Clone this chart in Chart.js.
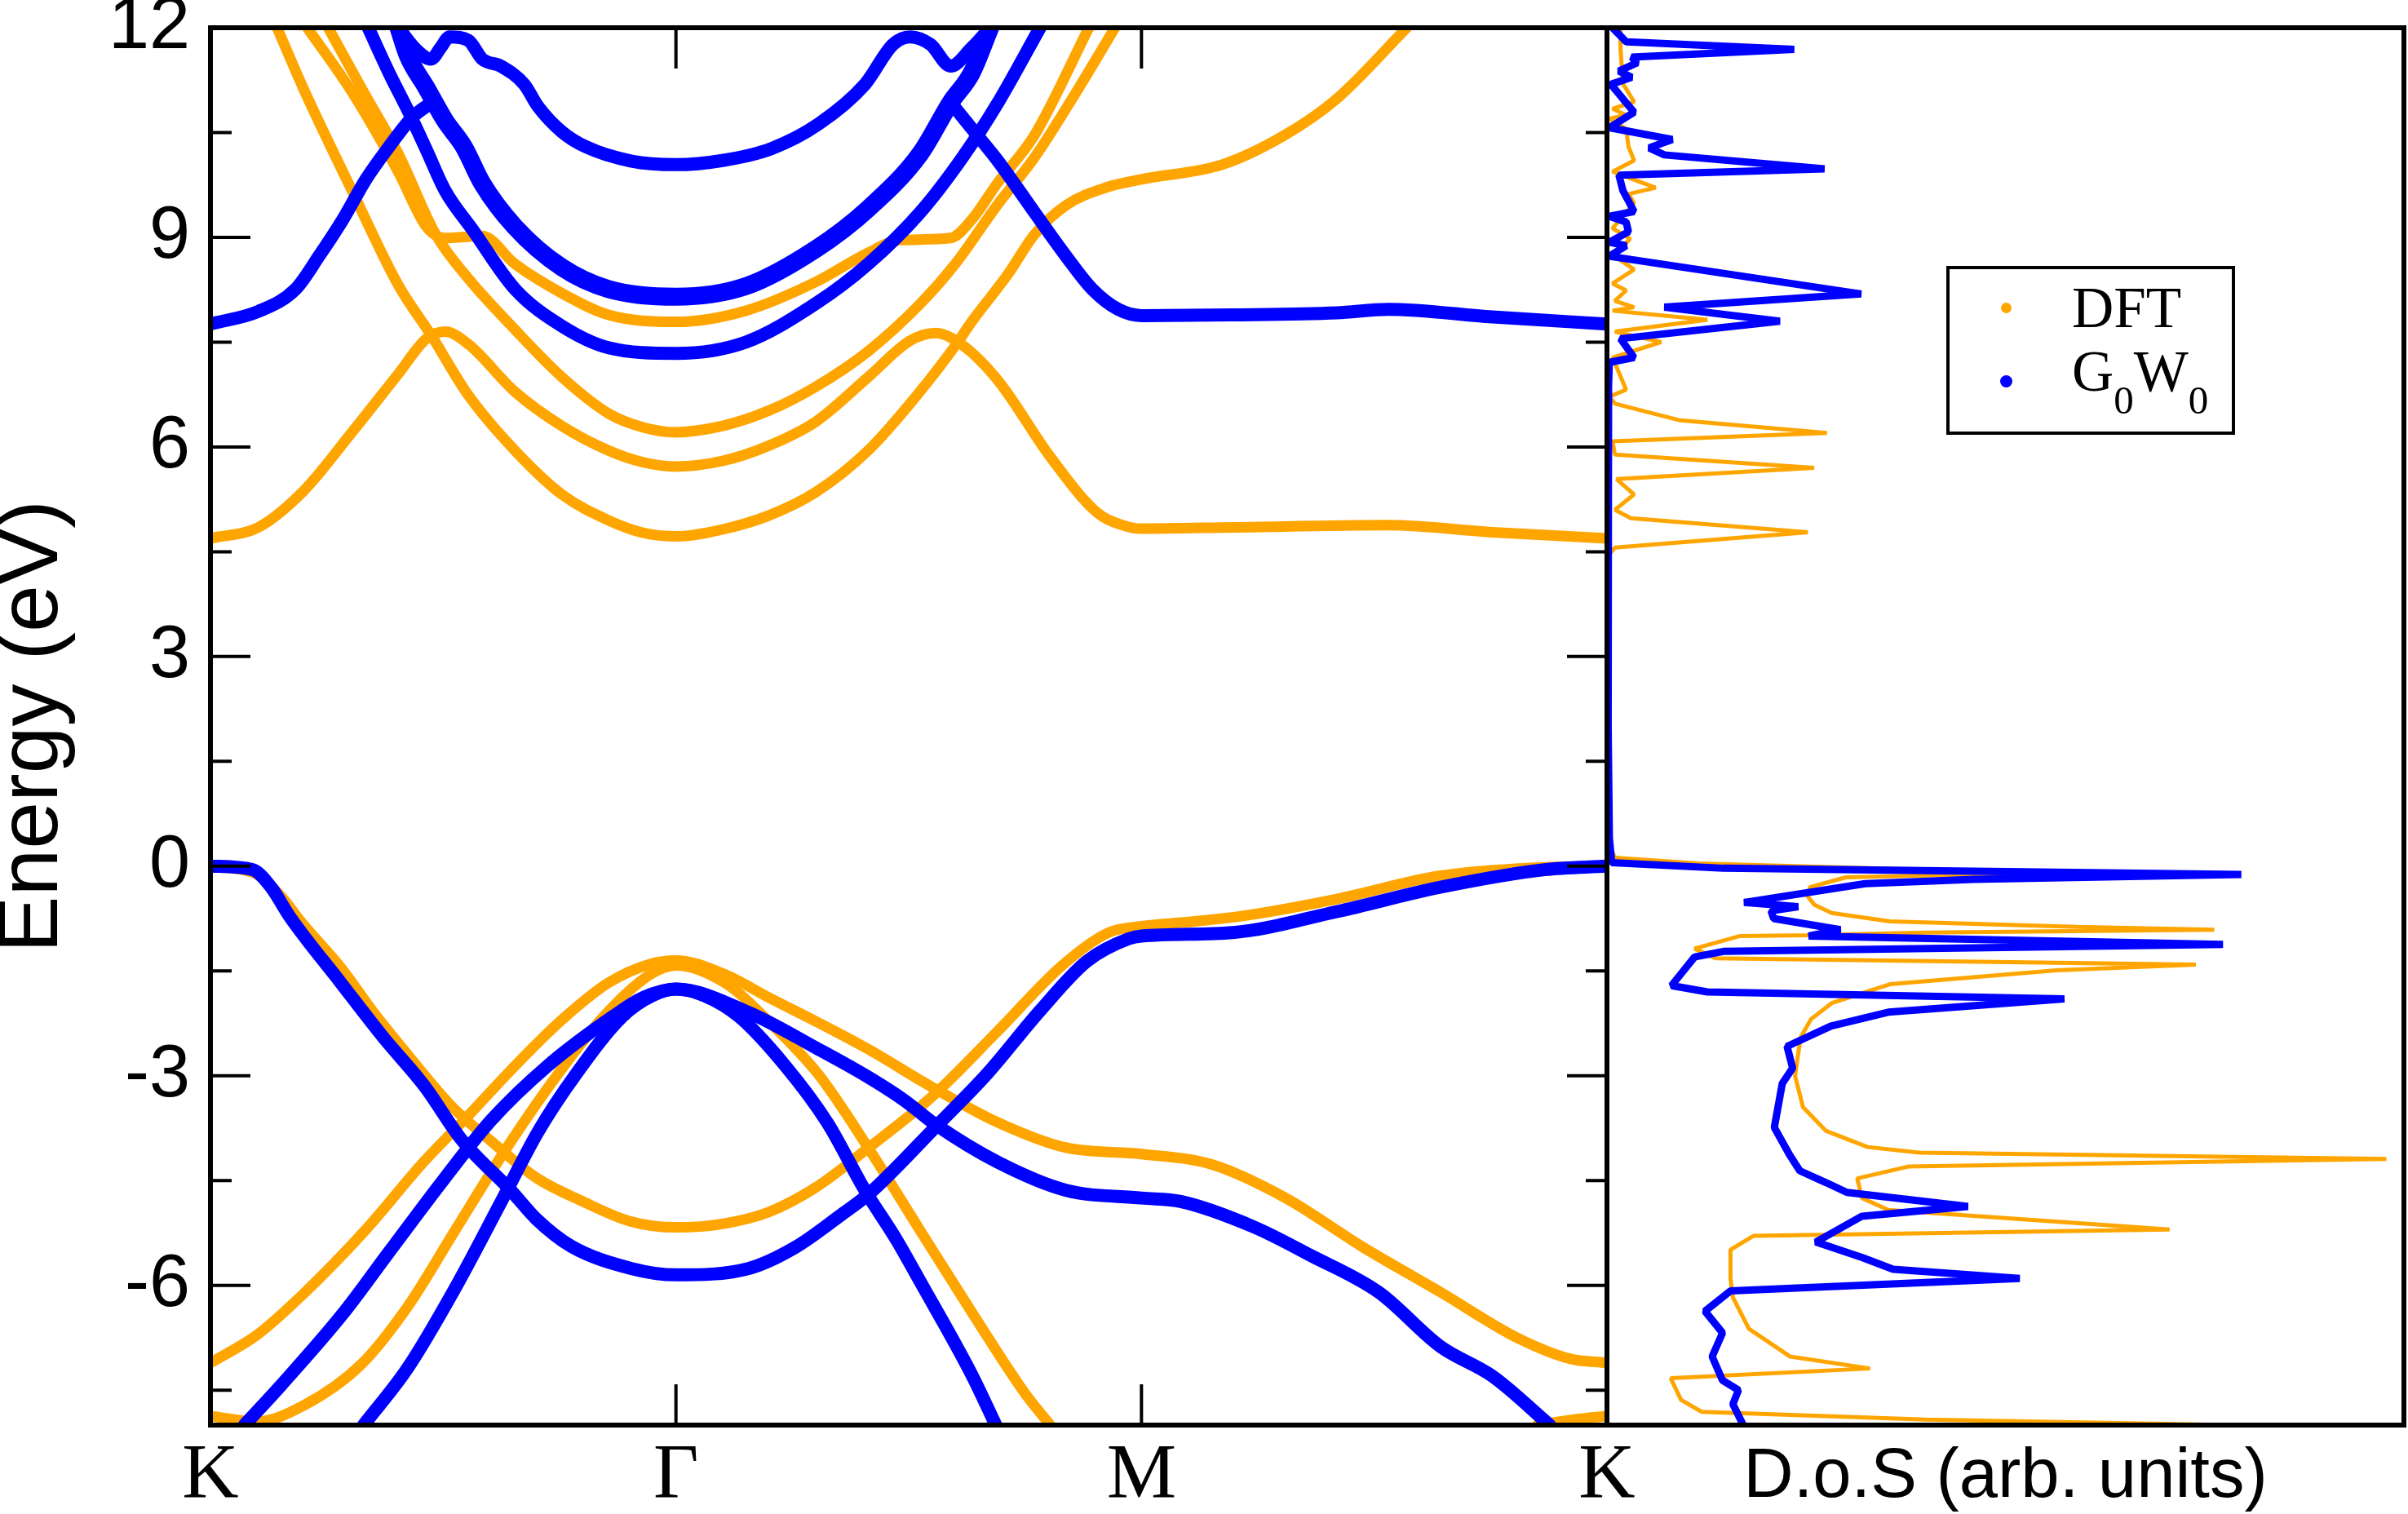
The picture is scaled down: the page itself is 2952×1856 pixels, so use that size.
<!DOCTYPE html>
<html>
<head>
<meta charset="utf-8">
<script src="https://cdn.jsdelivr.net/npm/chart.js@4.4.0/dist/chart.umd.min.js"></script>
<style>
  html, body { margin: 0; padding: 0; background: #fff; }
  #wrap { position: relative; width: 2952px; height: 1856px; overflow: hidden; }
  #bands { position: absolute; left: 0; top: 0; }
  #dos { position: absolute; left: 1960px; top: 0; }
  #legend { position: absolute; left: 2386px; top: 326px; width: 354px; height: 207px;
            border: 4px solid #000; box-sizing: border-box; font-family: 'Liberation Serif', serif; color: #000; }
  #legend .dot { position: absolute; border-radius: 50%; }
  #legend .txt { position: absolute; left: 150px; font-size: 71px; line-height: 1; white-space: nowrap; }
  #legend .sub { font-size: 49px; vertical-align: -28px; }
</style>
</head>
<body>
<div id="wrap">
  <canvas id="bands" width="2010" height="1856"></canvas>
  <canvas id="dos" width="992" height="1856"></canvas>
  <div id="legend">
    <span class="dot" style="left:63px;top:41px;width:13px;height:13px;background:#FFA500"></span>
    <span class="dot" style="left:62px;top:130px;width:15px;height:15px;background:#0000FF"></span>
    <div class="txt" style="top:12px">DFT</div>
    <div class="txt" style="top:90px">G<span class="sub">0</span>W<span class="sub">0</span></div>
  </div>
</div>
<script>
// k-path ticks and energy ticks
const kTicks = [0, 1, 2, 3];
const kLabels = ['K', 'Γ', 'M', 'K'];
const eTicks = [-6, -3, 0, 3, 6, 9, 12];

// DFT bands, [k, E]
const dftVal1 = [[0,0],[0.1,-0.12],[0.15,-0.42],[0.2,-0.84],[0.28,-1.45],[0.35,-2.09],[0.43,-2.75],[0.52,-3.45],[0.6,-3.92],[0.7,-4.46],[0.8,-4.8],[0.9,-5.08],[1,-5.17],[1.1,-5.12],[1.2,-4.95],[1.3,-4.6],[1.41,-4.05],[1.55,-3.3],[1.69,-2.37],[1.83,-1.42],[1.93,-0.95],[2,-0.86],[2.1,-0.8],[2.22,-0.71],[2.42,-0.47],[2.64,-0.14],[2.85,-0.02],[3,0]];
const dftVal2 = [[0,-7.11],[0.1,-6.71],[0.2,-6.12],[0.33,-5.23],[0.46,-4.22],[0.554,-3.57],[0.654,-2.86],[0.755,-2.2],[0.855,-1.67],[0.945,-1.4],[1,-1.35],[1.105,-1.55],[1.205,-1.9],[1.3,-2.22],[1.413,-2.62],[1.547,-3.15],[1.692,-3.67],[1.838,-4.03],[2,-4.12],[2.151,-4.27],[2.307,-4.74],[2.475,-5.45],[2.643,-6.1],[2.81,-6.76],[2.92,-7.05],[3,-7.11]];
const dftVal3 = [[0,-7.87],[0.1,-7.95],[0.2,-7.72],[0.324,-7.13],[0.424,-6.3],[0.524,-5.23],[0.624,-4.16],[0.734,-3.09],[0.845,-2.15],[0.945,-1.55],[1,-1.42],[1.105,-1.67],[1.205,-2.26],[1.306,-2.98],[1.413,-4.03],[1.525,-5.22],[1.637,-6.4],[1.748,-7.53],[1.804,-8],[2.3,null],[2.85,-8],[2.93,-7.92],[3,-7.87]];
const dftCon1 = [[0,4.69],[0.103,4.85],[0.2,5.37],[0.304,6.21],[0.404,7.05],[0.464,7.55],[0.504,7.65],[0.554,7.47],[0.654,6.79],[0.755,6.3],[0.855,5.95],[0.93,5.78],[1,5.72],[1.1,5.8],[1.2,6.02],[1.3,6.36],[1.413,7.0],[1.503,7.52],[1.558,7.63],[1.613,7.47],[1.692,6.95],[1.805,5.85],[1.905,5.06],[1.96,4.88],[2,4.83],[2.2,4.85],[2.53,4.88],[2.754,4.78],[3,4.69]];
const dftCon2 = [[0.143,12],[0.203,11.08],[0.304,9.67],[0.404,8.31],[0.474,7.6],[0.554,6.74],[0.654,5.95],[0.755,5.32],[0.855,4.95],[0.93,4.77],[1,4.72],[1.1,4.82],[1.2,5.02],[1.3,5.35],[1.413,5.95],[1.525,6.8],[1.6,7.45],[1.635,7.79],[1.713,8.47],[1.77,9.04],[1.838,9.46],[1.927,9.72],[2,9.83],[2.173,10.04],[2.307,10.46],[2.419,10.98],[2.57,12]];
const dftCon3 = [[0.253,12],[0.324,11.14],[0.404,10.19],[0.484,9.04],[0.554,8.41],[0.654,7.68],[0.755,7.0],[0.855,6.48],[0.93,6.28],[1,6.21],[1.1,6.3],[1.2,6.52],[1.3,6.86],[1.413,7.37],[1.525,8.05],[1.6,8.62],[1.69,9.46],[1.77,10.14],[1.86,11.08],[1.943,12]];
const dftCon4 = [[0.208,12],[0.304,11.08],[0.404,9.93],[0.464,9.15],[0.504,8.99],[0.584,9.02],[0.654,8.62],[0.755,8.2],[0.855,7.89],[1,7.79],[1.15,7.95],[1.3,8.36],[1.413,8.78],[1.48,8.96],[1.59,8.99],[1.635,9.25],[1.69,9.77],[1.77,10.46],[1.887,12]];

// G0W0 bands, [k, E]
const gwVal1 = [[0,0],[0.09,-0.05],[0.13,-0.3],[0.17,-0.72],[0.28,-1.67],[0.37,-2.44],[0.46,-3.15],[0.54,-3.92],[0.645,-4.64],[0.7,-5.05],[0.775,-5.44],[0.905,-5.76],[1,-5.85],[1.155,-5.76],[1.255,-5.46],[1.355,-4.99],[1.413,-4.7],[1.558,-3.73],[1.67,-2.96],[1.782,-2.07],[1.883,-1.36],[1.972,-1.04],[2,-1.0],[2.196,-0.95],[2.42,-0.65],[2.643,-0.3],[2.866,-0.05],[3,0]];
const gwVal2 = [[0.073,-8],[0.153,-7.42],[0.284,-6.41],[0.384,-5.52],[0.504,-4.46],[0.604,-3.63],[0.724,-2.86],[0.865,-2.15],[0.93,-1.88],[1,-1.76],[1.155,-2.09],[1.306,-2.62],[1.413,-3.02],[1.49,-3.35],[1.558,-3.7],[1.692,-4.24],[1.838,-4.64],[2,-4.75],[2.084,-4.8],[2.24,-5.16],[2.363,-5.57],[2.51,-6.1],[2.643,-6.88],[2.754,-7.3],[2.877,-8]];
const gwVal3 = [[0.329,-8],[0.424,-7.18],[0.524,-6.06],[0.624,-4.81],[0.704,-3.8],[0.785,-2.98],[0.885,-2.15],[0.95,-1.85],[1,-1.76],[1.06,-1.85],[1.135,-2.15],[1.235,-2.86],[1.326,-3.68],[1.406,-4.64],[1.474,-5.35],[1.525,-5.95],[1.637,-7.3],[1.687,-8]];
const gwCon1 = [[0,7.76],[0.103,7.94],[0.183,8.26],[0.233,8.73],[0.284,9.25],[0.334,9.83],[0.384,10.3],[0.434,10.72],[0.48,10.95],[1,null],[1.6,10.85],[1.635,10.56],[1.692,10.09],[1.77,9.36],[1.838,8.73],[1.894,8.26],[1.95,7.97],[2,7.88],[2.196,7.89],[2.42,7.92],[2.53,7.97],[2.754,7.86],[3,7.76]];
const gwCon2 = [[0.339,12],[0.384,11.35],[0.424,10.82],[0.464,10.25],[0.504,9.67],[0.564,9.1],[0.654,8.26],[0.755,7.73],[0.855,7.42],[1,7.34],[1.15,7.5],[1.3,8.05],[1.413,8.62],[1.525,9.36],[1.615,10.14],[1.692,10.93],[1.782,12]];
const gwCon3 = [[0.404,12],[0.424,11.6],[0.464,11.14],[0.504,10.67],[0.544,10.3],[0.584,9.77],[0.654,9.15],[0.755,8.57],[0.855,8.26],[1,8.15],[1.15,8.3],[1.3,8.83],[1.413,9.41],[1.525,10.2],[1.59,10.93],[1.635,11.35],[1.675,12]];
const gwCon4 = [[0.404,12],[0.44,11.7],[0.474,11.55],[0.494,11.71],[0.514,11.87],[0.554,11.82],[0.584,11.55],[0.624,11.45],[0.674,11.19],[0.704,10.87],[0.755,10.51],[0.805,10.3],[0.905,10.09],[1,10.04],[1.1,10.1],[1.205,10.27],[1.306,10.62],[1.406,11.19],[1.466,11.76],[1.503,11.87],[1.547,11.76],[1.59,11.45],[1.635,11.71],[1.675,12]];

// density of states, [D.o.S, E]
const dftDos = [[1.7,12.0],[1.7,11.7],[2.0,11.2],[3.4,10.94],[0.7,10.84],[2.4,10.75],[0.3,10.7],[2.4,10.55],[2.7,10.3],[3.4,10.1],[0.7,9.94],[6.1,9.71],[2.7,9.62],[3.4,9.49],[0.7,9.13],[2.9,8.98],[1.0,8.73],[3.4,8.54],[0.7,8.34],[2.4,8.24],[1.0,8.09],[3.4,8.0],[0.7,7.95],[12.6,7.82],[1.0,7.65],[6.8,7.5],[0.7,7.28],[2.4,6.82],[0.3,6.72],[1.0,6.62],[9.2,6.38],[27.6,6.2],[0.7,6.08],[1.0,5.89],[26.0,5.7],[1.2,5.54],[3.4,5.32],[1.0,5.1],[3.0,4.98],[25.2,4.78],[1.0,4.56],[0.2,4.45],[0.1,3.0],[0.1,1.0],[0.3,0.3],[1.0,0.12],[11.5,0.04],[55,-0.1],[41,-0.13],[30,-0.16],[25.5,-0.3],[25.1,-0.42],[26,-0.55],[28.2,-0.67],[35.5,-0.79],[59,-0.87],[76.2,-0.91],[40,-0.95],[25.1,-0.99],[16.7,-1.0],[11.0,-1.18],[13.6,-1.32],[73.9,-1.41],[56.4,-1.49],[35.5,-1.69],[28.2,-1.96],[25.6,-2.19],[24.3,-2.45],[23.6,-3.0],[24.6,-3.45],[27.5,-3.79],[32.7,-4.02],[39.2,-4.1],[97.8,-4.19],[37.8,-4.3],[31.4,-4.47],[32.0,-4.75],[35.3,-4.92],[70.6,-5.2],[18.4,-5.29],[15.5,-5.49],[15.5,-5.9],[15.8,-6.17],[17.8,-6.62],[23.0,-7.02],[33.0,-7.19],[8.0,-7.33],[9.3,-7.64],[11.9,-7.81],[40,-7.92],[78.3,-8.0]];
const gwDos = [[0.7,12.0],[2.4,11.8],[23.5,11.69],[3.1,11.58],[3.8,11.5],[1.5,11.38],[3.1,11.29],[0.5,11.19],[3.4,10.79],[0.3,10.57],[8.2,10.4],[5.3,10.28],[7.2,10.18],[27.3,9.98],[1.5,9.89],[2.0,9.67],[3.4,9.37],[0.3,9.3],[2.4,9.22],[2.7,9.08],[0.3,8.93],[2.4,8.88],[0.3,8.73],[31.9,8.19],[7.2,8.0],[21.7,7.8],[1.7,7.55],[3.4,7.28],[0.3,7.21],[0.2,6.87],[0.15,4.5],[0.15,2.0],[0.3,0.4],[0.6,0.05],[14.6,-0.03],[79.6,-0.12],[46,-0.19],[32.4,-0.25],[17.2,-0.52],[24.0,-0.58],[20.6,-0.64],[20.9,-0.75],[29.3,-0.91],[25.3,-1.0],[77.3,-1.12],[14.6,-1.22],[11.0,-1.3],[8.1,-1.71],[12.6,-1.8],[57.4,-1.9],[35.3,-2.09],[28.1,-2.29],[22.6,-2.58],[23.3,-2.89],[22.0,-3.11],[21.0,-3.74],[22.9,-4.13],[24.2,-4.36],[27.5,-4.53],[30.1,-4.67],[45.3,-4.87],[32.0,-5.01],[26.2,-5.38],[32.0,-5.6],[35.9,-5.77],[51.8,-5.9],[15.5,-6.08],[12.3,-6.37],[14.5,-6.68],[13.2,-7.02],[14.5,-7.36],[16.5,-7.5],[15.8,-7.7],[17.1,-8.0]];

const ORANGE = '#FFA500';
const BLUE = '#0000FF';

Chart.defaults.font.family = "'Liberation Sans', Arial, sans-serif";
Chart.defaults.color = '#000';

function band(points, color, width, order) {
    return {
        data: points.map(p => ({ x: p[0], y: p[1] })),
        borderColor: color,
        borderWidth: width,
        pointRadius: 0,
        cubicInterpolationMode: 'monotone',
        borderCapStyle: 'round',
        borderJoinStyle: 'round',
        spanGaps: false,
        fill: false,
        order: order
    };
}

function dosLine(points, color, width, order) {
    return {
        data: points.map(p => ({ x: p[0], y: p[1] })),
        borderColor: color,
        borderWidth: width,
        pointRadius: 0,
        tension: 0,
        borderJoinStyle: 'bevel',
        fill: false,
        order: order
    };
}

// box + inward ticks for the band panel
const bandFrame = {
    id: 'bandFrame',
    afterDatasetsDraw(chart) {
        const { ctx, chartArea: a, scales: { x, y } } = chart;
        ctx.save();
        ctx.strokeStyle = '#000';
        ctx.lineWidth = 4;
        ctx.beginPath();
        for (let v = -7.5; v < 12; v += 1.5) {
            const py = y.getPixelForValue(v);
            const len = (v % 3 === 0) ? 49 : 26;
            ctx.moveTo(a.left, py); ctx.lineTo(a.left + len, py);
            ctx.moveTo(a.right, py); ctx.lineTo(a.right - len, py);
        }
        [1, 2].forEach(k => {
            const px = x.getPixelForValue(k);
            ctx.moveTo(px, a.bottom); ctx.lineTo(px, a.bottom - 50);
            ctx.moveTo(px, a.top); ctx.lineTo(px, a.top + 50);
        });
        ctx.stroke();
        ctx.lineWidth = 6;
        ctx.strokeRect(a.left, a.top, a.right - a.left, a.bottom - a.top);
        ctx.restore();
    }
};

const dosFrame = {
    id: 'dosFrame',
    afterDatasetsDraw(chart) {
        const { ctx, chartArea: a } = chart;
        ctx.save();
        ctx.strokeStyle = '#000';
        ctx.lineWidth = 6;
        ctx.strokeRect(a.left, a.top, a.right - a.left, a.bottom - a.top);
        ctx.restore();
    }
};

// Band structure
const bandChart = new Chart(document.getElementById('bands'), {
    type: 'line',
    data: {
        datasets: [
            band(gwVal1, BLUE, 16, 0), band(gwVal2, BLUE, 16, 0), band(gwVal3, BLUE, 16, 0),
            band(gwCon1, BLUE, 16, 0), band(gwCon2, BLUE, 16, 0), band(gwCon3, BLUE, 22, 0), band(gwCon4, BLUE, 16, 0),
            band(dftVal1, ORANGE, 13, 1), band(dftVal2, ORANGE, 13, 1), band(dftVal3, ORANGE, 13, 1),
            band(dftCon1, ORANGE, 13, 1), band(dftCon2, ORANGE, 13, 1), band(dftCon3, ORANGE, 13, 1), band(dftCon4, ORANGE, 13, 1)
        ]
    },
    options: {
        responsive: false,
        animation: false,
        layout: { padding: { top: 34, right: 40, left: 0, bottom: 0 } },
        plugins: { legend: { display: false }, tooltip: { enabled: false } },
        scales: {
            x: {
                type: 'linear', min: 0, max: 3,
                afterBuildTicks: s => { s.ticks = kTicks.map(v => ({ value: v })); },
                ticks: {
                    callback: (v, i) => kLabels[i],
                    font: { family: "'Liberation Serif', serif", size: 96, lineHeight: 1 },
                    padding: 16, maxRotation: 0, autoSkip: false
                },
                grid: { display: false, drawTicks: false },
                border: { display: false },
                afterFit: s => { s.height = 109; s.paddingLeft = 0; s.paddingRight = 0; }
            },
            y: {
                min: -8, max: 12,
                afterBuildTicks: s => { s.ticks = eTicks.map(v => ({ value: v })); },
                ticks: {
                    callback: v => String(v),
                    font: { size: 90, lineHeight: 0.7 },
                    padding: 25
                },
                grid: { display: false, drawTicks: false },
                border: { display: false },
                title: { display: true, text: 'Energy (eV)', font: { size: 104, lineHeight: 0.8 }, padding: 0 },
                afterFit: s => { s.width = 258; s.paddingTop = 0; s.paddingBottom = 0; }
            }
        }
    },
    plugins: [bandFrame]
});

// Density of states
const dosChart = new Chart(document.getElementById('dos'), {
    type: 'line',
    data: {
        datasets: [
            dosLine(gwDos, BLUE, 9, 0),
            dosLine(dftDos, ORANGE, 5, 1)
        ]
    },
    options: {
        responsive: false,
        animation: false,
        layout: { padding: { top: 34, right: 5, left: 10, bottom: 0 } },
        plugins: { legend: { display: false }, tooltip: { enabled: false } },
        scales: {
            x: {
                type: 'linear', min: 0, max: 100,
                ticks: { display: false },
                grid: { display: false, drawTicks: false },
                border: { display: false },
                title: { display: true, text: 'D.o.S (arb. units)', font: { size: 85, lineHeight: 1.04 }, padding: 0 },
                afterFit: s => { s.height = 109; s.paddingLeft = 0; s.paddingRight = 0; }
            },
            y: { display: false, min: -8, max: 12 }
        }
    },
    plugins: [dosFrame]
});
</script>
</body>
</html>
